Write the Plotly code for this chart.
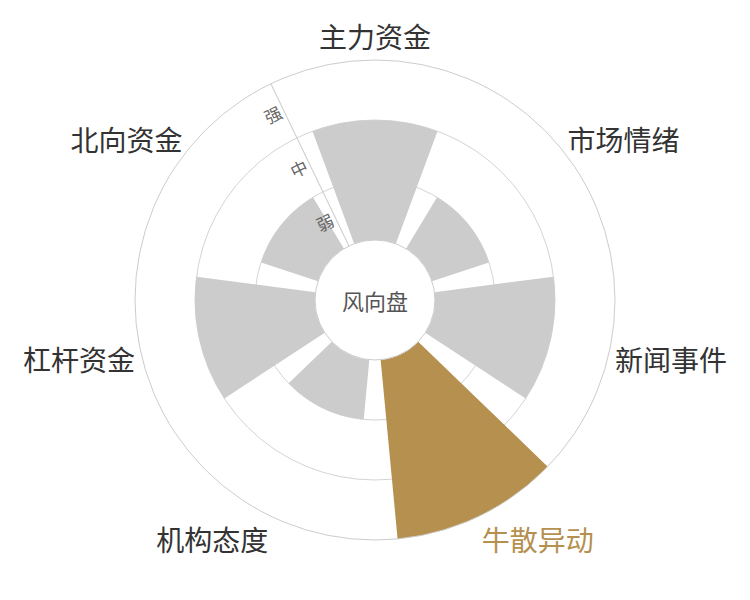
import plotly.graph_objects as go

# 风向盘 - 七个维度的强弱 (1=弱, 2=中, 3=强)
categories = ['主力资金', '市场情绪', '新闻事件', '牛散异动', '机构态度', '杠杆资金', '北向资金']
values = [2, 1, 2, 3, 1, 2, 1]
highlight = '牛散异动'
level_vals = [0.5, 1.5, 2.5]
level_text = ['弱', '中', '强']

gold = '#b5904f'
grey = '#cccccc'
font = 'Noto Sans CJK SC'

bar_colors = [gold if c == highlight else grey for c in categories]
tick_text = ['<span style="color:%s">%s</span>' % (gold, c) if c == highlight else c
             for c in categories]

axis_angle = 90 + 180 / len(categories)

fig = go.Figure()
fig.add_trace(go.Barpolar(
    r=values,
    theta=categories,
    width=0.79,
    marker=dict(color=bar_colors, line=dict(width=0)),
    hoverinfo='skip',
    subplot='polar',
))
# second polar only carries the 弱/中/强 labels between the rings
fig.add_trace(go.Scatterpolar(r=[], theta=[], subplot='polar2', showlegend=False))

fig.update_layout(
    width=750, height=600,
    paper_bgcolor='white',
    # page body has an 8px margin, so pull the plot up/left a bit
    margin=dict(l=127, r=143, t=52, b=68),
    showlegend=False,
    font=dict(family=font, color='#333333'),
    polar=dict(
        domain=dict(x=[0, 1], y=[0, 1]),
        hole=0.25,
        bgcolor='white',
        angularaxis=dict(
            type='category',
            categoryarray=categories,
            direction='clockwise',
            rotation=90,
            showgrid=False,
            ticks='',
            showline=True,
            linecolor='#cccccc',
            linewidth=1,
            tickmode='array',
            tickvals=categories,
            ticktext=tick_text,
            tickfont=dict(size=28, color='#333333', family=font),
        ),
        radialaxis=dict(
            range=[0, 3],
            angle=axis_angle,
            tickvals=[0, 1, 2],
            showticklabels=False,
            ticks='',
            showgrid=True,
            gridcolor='#d4d4d4',
            gridwidth=1,
            showline=True,
            linecolor='#cccccc',
            linewidth=1,
            layer='below traces',
        ),
    ),
    polar2=dict(
        domain=dict(x=[0, 1], y=[0, 1]),
        hole=0.25,
        bgcolor='rgba(0,0,0,0)',
        angularaxis=dict(visible=False, direction='clockwise', rotation=90),
        radialaxis=dict(
            range=[0, 3],
            angle=axis_angle,
            side='counterclockwise',
            tickvals=level_vals,
            ticktext=level_text,
            tickangle=90,
            ticks='',
            showgrid=False,
            showline=False,
            tickfont=dict(size=17, color='#666666', family=font),
        ),
    ),
    annotations=[dict(
        text='风向盘', x=0.5, y=0.5, xref='paper', yref='paper',
        showarrow=False, font=dict(size=22, color='#555555', family=font),
    )],
)

fig.write_html('out.html')
